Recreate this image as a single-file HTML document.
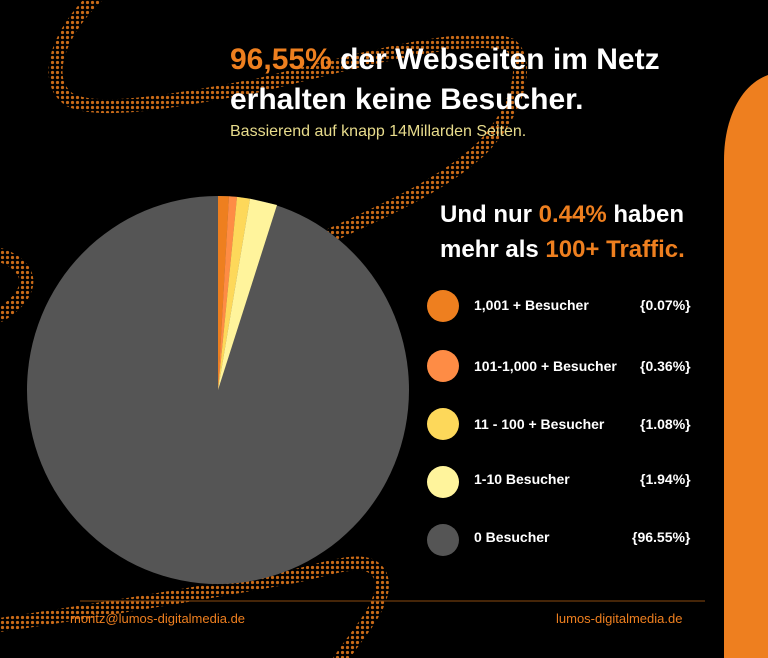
<!DOCTYPE html>
<html><head><meta charset="utf-8"><style>
body{margin:0;background:#000;width:768px;height:658px;overflow:hidden;position:relative;font-family:"Liberation Sans",sans-serif}
.t{position:absolute;white-space:nowrap}
.o{color:#ee7f1f}
.h{font-weight:bold;color:#fff;font-size:30px}
.l{font-weight:bold;color:#fff;font-size:14px}
</style></head><body>
<svg width="768" height="658" style="position:absolute;left:0;top:0">
<defs><pattern id="d" width="5" height="5" patternUnits="userSpaceOnUse"><circle cx="2.5" cy="2.5" r="1.6" fill="#c86a18"/></pattern></defs>
<g fill="none" stroke="url(#d)" stroke-width="14" stroke-linecap="round">
<path d="M98,-5 C60,30 40,80 70,100 C100,115 180,100 260,85 C360,60 470,30 510,45 C530,60 520,110 480,150 C430,195 360,220 300,250"/>
<path d="M0,255 C30,265 40,290 0,315"/>
<path d="M0,625 C100,610 220,590 300,575 C340,565 370,555 380,575 C390,600 360,630 340,660"/>
</g>
<path d="M724,658 L724,160 C724,120 740,85 768,75 L768,658 Z" fill="#ee7f1f"/>
<ellipse cx="218" cy="390" rx="191" ry="194" fill="#555"/>
<path d="M218,390 L218,196 L229,196.3 Z" fill="#ee7f1f"/>
<path d="M218,390 L229,196.3 L237,196.9 Z" fill="#fe8c45"/>
<path d="M218,390 L237,196.9 L250,198.7 Z" fill="#fdd85a"/>
<path d="M218,390 L250,198.7 L277,205 Z" fill="#fff49c"/>
<line x1="80" y1="601" x2="705" y2="601" stroke="#8a4a10" stroke-width="1"/>
<ellipse cx="443" cy="306" rx="16" ry="16" fill="#ee7f1f"/>
<ellipse cx="443" cy="366" rx="16" ry="16" fill="#fe8c45"/>
<ellipse cx="443" cy="424" rx="16" ry="16" fill="#fdd85a"/>
<ellipse cx="443" cy="482" rx="16" ry="16" fill="#fff49c"/>
<ellipse cx="443" cy="540" rx="16" ry="16" fill="#555"/>
</svg>
<div class="t h" style="left:230px;top:43px"><span class="o">96,55%</span> der Webseiten im Netz</div>
<div class="t h" style="left:230px;top:83px">erhalten keine Besucher.</div>
<div class="t" style="left:230px;top:123px;font-size:16px;color:#e8dc8c">Bassierend auf knapp 14Millarden Seiten.</div>
<div class="t h" style="left:440px;top:201px;font-size:24px">Und nur <span class="o">0.44%</span> haben</div>
<div class="t h" style="left:440px;top:236px;font-size:24px">mehr als <span class="o">100+ Traffic.</span></div>
<div class="t l" style="left:474px;top:297px">1,001 + Besucher</div><div class="t l" style="left:640px;top:297px">{0.07%}</div>
<div class="t l" style="left:474px;top:358px">101-1,000 + Besucher</div><div class="t l" style="left:640px;top:358px">{0.36%}</div>
<div class="t l" style="left:474px;top:416px">11 - 100 + Besucher</div><div class="t l" style="left:640px;top:416px">{1.08%}</div>
<div class="t l" style="left:474px;top:471px">1-10 Besucher</div><div class="t l" style="left:640px;top:471px">{1.94%}</div>
<div class="t l" style="left:474px;top:529px">0 Besucher</div><div class="t l" style="left:632px;top:529px">{96.55%}</div>
<div class="t o" style="left:70px;top:611px;font-size:13px">moritz@lumos-digitalmedia.de</div>
<div class="t o" style="left:556px;top:611px;font-size:13px">lumos-digitalmedia.de</div>
</body></html>
